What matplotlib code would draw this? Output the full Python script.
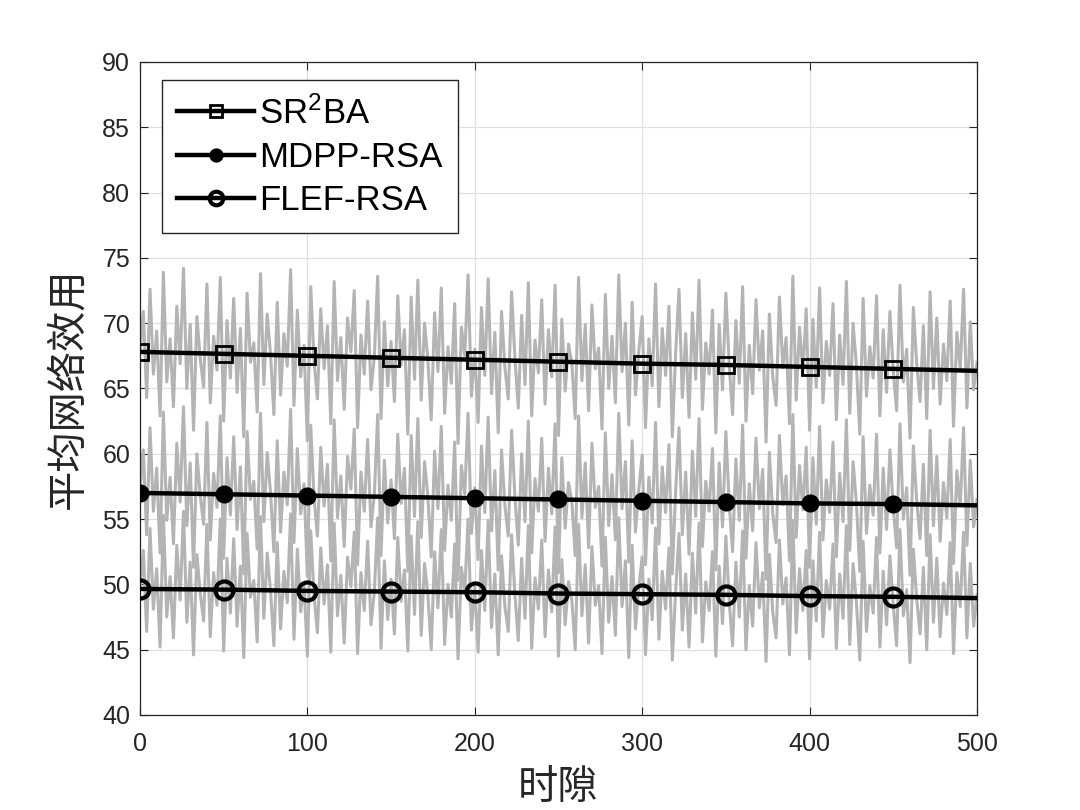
import numpy as np
import matplotlib
matplotlib.use('Agg')
import matplotlib.pyplot as plt

plt.rcParams['font.family'] = ['Liberation Sans', 'Noto Sans CJK SC', 'DejaVu Sans']
plt.rcParams['mathtext.default'] = 'regular'

# slots of the grey per-slot curves (every 2nd slot)
slots = np.arange(0, 501, 2)

sr2ba_raw = [
    67.8, 70.9, 64.3, 72.6, 66.1, 69.4, 62.9, 73.9, 65.5, 68.8,
    63.6, 71.3, 66.9, 74.2, 65.0, 69.9, 61.8, 70.5, 67.3, 65.1,
    73.0, 63.9, 69.0, 66.4, 73.5, 62.5, 70.2, 65.8, 71.9, 64.7,
    69.6, 61.3, 72.3, 67.0, 68.5, 63.2, 73.8, 65.3, 70.7, 67.6,
    63.0, 71.6, 64.5, 69.2, 66.7, 74.1, 63.7, 71.0, 65.9, 68.3,
    61.0, 72.8, 67.1, 64.2, 71.1, 66.5, 69.8, 62.3, 73.2, 65.6,
    68.9, 63.4, 70.4, 67.8, 72.5, 62.0, 69.1, 66.1, 71.7, 64.9,
    67.4, 73.6, 62.7, 70.1, 65.2, 68.6, 64.0, 72.1, 66.8, 69.5,
    61.5, 72.0, 65.7, 73.3, 64.1, 70.0, 67.2, 62.6, 70.8, 66.3,
    72.7, 63.1, 68.2, 65.4, 71.5, 60.8, 69.7, 67.5, 73.7, 64.4,
    68.0, 62.4, 71.2, 66.0, 73.4, 64.6, 69.3, 61.6, 70.9, 66.6,
    64.2, 72.4, 67.3, 63.5, 70.6, 65.3, 73.1, 62.9, 68.7, 66.2,
    71.8, 63.8, 69.5, 65.9, 72.9, 61.4, 70.3, 64.8, 68.4, 66.9,
    62.7, 73.5, 65.6, 69.9, 63.3, 71.4, 66.5, 68.1, 61.9, 72.2,
    65.0, 69.0, 63.9, 73.7, 66.3, 70.0, 62.2, 71.6, 64.5, 67.9,
    70.5, 62.0, 68.8, 65.2, 73.0, 63.6, 69.6, 66.0, 71.3, 61.3,
    67.7, 72.6, 64.3, 69.2, 62.8, 70.8, 65.7, 73.3, 63.4, 68.5,
    66.1, 71.0, 61.6, 69.9, 64.9, 72.3, 66.8, 63.0, 70.2, 65.4,
    72.8, 62.5, 68.3, 64.6, 71.8, 66.4, 69.4, 60.9, 70.7, 65.9,
    63.7, 72.0, 66.6, 68.9, 62.3, 73.6, 64.1, 69.7, 66.2, 71.1,
    61.8, 70.3, 65.1, 72.7, 63.9, 68.6, 66.0, 71.5, 62.6, 69.1,
    65.3, 73.2, 63.1, 70.0, 66.7, 61.5, 71.9, 64.4, 68.2, 65.8,
    72.1, 62.9, 69.5, 64.7, 70.9, 66.3, 63.3, 72.9, 65.5, 68.0,
    61.2, 71.2, 66.9, 64.0, 69.8, 62.7, 72.4, 65.0, 70.4, 63.8,
    68.4, 65.6, 71.7, 62.1, 69.3, 66.5, 72.6, 63.5, 70.1, 64.9,
    67.0]

mdpp_raw = [
    57.1, 60.3, 53.8, 62.0, 55.6, 58.9, 52.4, 63.2, 54.9, 58.2,
    53.1, 60.8, 56.3, 63.6, 54.5, 59.3, 51.3, 60.0, 56.8, 54.6,
    62.4, 53.4, 58.5, 55.9, 62.9, 52.0, 59.7, 55.3, 61.3, 54.2,
    59.0, 50.8, 61.7, 56.5, 57.9, 52.7, 63.1, 54.8, 60.1, 57.0,
    52.5, 61.0, 54.0, 58.6, 56.1, 63.4, 53.2, 60.4, 55.4, 57.7,
    50.6, 62.2, 56.6, 53.7, 60.5, 56.0, 59.2, 51.8, 62.6, 55.1,
    58.3, 52.9, 59.8, 57.3, 61.9, 51.5, 58.6, 55.6, 61.1, 54.4,
    56.9, 63.0, 52.2, 59.5, 54.7, 58.0, 53.5, 61.5, 56.2, 58.9,
    51.0, 61.4, 55.2, 62.7, 53.6, 59.4, 56.7, 52.1, 60.2, 55.8,
    62.1, 52.6, 57.6, 54.9, 60.9, 50.3, 59.1, 56.9, 63.1, 53.9,
    57.4, 51.9, 60.6, 55.5, 62.8, 54.1, 58.7, 51.1, 60.3, 56.0,
    53.7, 61.8, 56.7, 53.0, 60.0, 54.8, 62.5, 52.4, 58.1, 55.6,
    61.2, 53.3, 58.9, 55.4, 62.3, 50.9, 59.7, 54.3, 57.8, 56.3,
    52.2, 62.9, 55.1, 59.3, 52.8, 60.8, 55.9, 57.5, 51.4, 61.6,
    54.5, 58.4, 53.4, 63.1, 55.8, 59.4, 51.7, 61.0, 54.0, 57.3,
    59.9, 51.5, 58.2, 54.7, 62.4, 53.1, 59.0, 55.5, 60.7, 50.8,
    57.1, 62.0, 53.8, 58.6, 52.3, 60.2, 55.2, 62.7, 52.9, 57.9,
    55.6, 60.4, 51.1, 59.3, 54.4, 61.7, 56.2, 52.5, 59.6, 54.9,
    62.2, 52.0, 57.7, 54.1, 61.2, 55.8, 58.8, 50.4, 60.1, 55.4,
    53.2, 61.4, 56.1, 58.3, 51.8, 63.0, 53.6, 59.1, 55.7, 60.5,
    51.3, 59.7, 54.6, 62.1, 53.4, 58.0, 55.5, 60.9, 52.1, 58.5,
    54.8, 62.6, 52.6, 59.4, 56.2, 51.0, 61.3, 53.9, 57.6, 55.3,
    61.5, 52.4, 58.9, 54.2, 60.3, 55.8, 52.8, 62.3, 55.0, 57.4,
    50.7, 60.6, 56.4, 53.5, 59.2, 52.2, 61.8, 54.5, 59.8, 53.3,
    57.8, 55.1, 61.1, 51.6, 58.7, 56.0, 62.0, 53.0, 59.5, 54.4,
    56.5]

flef_raw = [
    49.7, 52.6, 46.4, 54.3, 48.1, 51.2, 45.2, 55.3, 47.5, 50.6,
    45.9, 53.0, 48.8, 55.6, 47.1, 51.7, 44.6, 52.3, 49.3, 47.2,
    54.6, 46.0, 50.9, 48.4, 55.0, 44.9, 52.0, 47.8, 53.5, 46.8,
    51.4, 44.4, 53.9, 49.0, 50.3, 45.6, 55.2, 47.4, 52.4, 49.5,
    45.3, 53.2, 46.6, 51.0, 48.6, 55.4, 45.8, 52.7, 47.9, 50.1,
    44.5, 54.1, 49.1, 46.3, 52.8, 48.5, 51.5, 44.8, 54.7, 47.6,
    50.7, 45.5, 52.1, 49.8, 54.0, 44.7, 50.9, 48.0, 53.3, 46.9,
    49.4, 55.1, 45.1, 51.8, 47.3, 50.4, 46.2, 53.6, 48.7, 51.1,
    44.9, 53.7, 47.7, 54.8, 46.1, 51.6, 49.2, 45.0, 52.5, 48.2,
    54.2, 45.4, 50.0, 47.5, 53.1, 44.3, 51.3, 49.4, 55.0, 46.5,
    49.9, 44.8, 52.6, 48.0, 54.9, 46.7, 50.8, 44.6, 52.2, 48.3,
    46.4, 53.8, 49.2, 45.7, 52.0, 47.4, 54.5, 45.1, 50.5, 48.1,
    53.4, 46.0, 51.1, 47.9, 54.4, 44.5, 51.9, 46.9, 50.2, 48.8,
    45.0, 54.6, 47.6, 51.5, 45.5, 52.9, 48.4, 49.9, 44.7, 53.6,
    47.1, 50.6, 46.1, 55.1, 48.3, 51.8, 44.4, 53.0, 46.6, 49.8,
    52.1, 44.6, 50.4, 47.3, 54.3, 45.8, 51.0, 48.1, 52.8, 44.2,
    49.5, 53.9, 46.5, 50.8, 45.2, 52.4, 47.8, 54.7, 45.6, 50.2,
    48.0, 52.5, 44.5, 51.4, 47.0, 53.7, 48.7, 45.3, 51.7, 47.5,
    54.1, 45.0, 49.9, 46.8, 53.2, 48.2, 50.9, 44.1, 52.3, 47.9,
    45.9, 53.4, 48.5, 50.5, 44.6, 54.9, 46.3, 51.2, 48.0, 52.6,
    44.3, 51.8, 47.2, 54.0, 46.0, 50.3, 48.1, 53.1, 45.1, 50.8,
    47.4, 54.5, 45.4, 51.6, 48.6, 44.2, 53.3, 46.4, 49.9, 47.8,
    53.6, 45.2, 51.0, 46.9, 52.2, 48.4, 45.3, 54.2, 47.6, 49.6,
    44.0, 52.7, 48.9, 46.2, 51.3, 45.0, 53.8, 47.1, 52.0, 46.0,
    50.1, 47.7, 53.2, 44.7, 50.9, 48.3, 54.0, 45.9, 51.6, 46.8,
    49.2]

# average curves
avg_slots = [0, 50, 100, 150, 200, 250, 300, 350, 400, 450, 500]
sr2ba_avg = [67.8, 67.65, 67.5, 67.35, 67.2, 67.05, 66.9, 66.8, 66.65, 66.5, 66.35]
mdpp_avg = [57.0, 56.9, 56.8, 56.7, 56.6, 56.5, 56.4, 56.3, 56.2, 56.15, 56.05]
flef_avg = [49.65, 49.6, 49.5, 49.45, 49.4, 49.3, 49.25, 49.2, 49.1, 49.05, 48.95]

labels = [r'SR$^{2}$BA', 'MDPP-RSA', 'FLEF-RSA']

fig = plt.figure(figsize=(10.8, 8.1), dpi=100)
ax = fig.add_axes([0.1296, 0.1173, 0.775, 0.8062])

grey = '#b4b4b4'
for raw in (sr2ba_raw, mdpp_raw, flef_raw):
    ax.plot(slots, raw, color=grey, lw=2.2, zorder=2)

mk = list(range(10))
ax.plot(avg_slots, sr2ba_avg, color='k', lw=3.2, marker='s', ms=11, mfc='none',
        mew=2, markevery=mk, label=labels[0], zorder=3)
ax.plot(avg_slots, mdpp_avg, color='k', lw=3.2, marker='o', ms=11, mfc='k',
        mew=2, markevery=mk, label=labels[1], zorder=3)
ax.plot(avg_slots, flef_avg, color='k', lw=3.2, marker='o', ms=13, mfc='none',
        mew=3, markevery=mk, label=labels[2], zorder=3)

ax.set_xlim(0, 500)
ax.set_ylim(40, 90)
ax.set_xticks(range(0, 501, 100))
ax.set_yticks(range(40, 91, 5))
ax.grid(True, color='#e0e0e0', lw=0.9)
ax.set_axisbelow(True)
ax.tick_params(direction='in', length=6, width=0.8, top=True, right=True,
               labelsize=18, colors='#262626')
ax.tick_params(axis='x', pad=12)
ax.tick_params(axis='y', pad=7)
for s in ax.spines.values():
    s.set_color('#262626')
    s.set_linewidth(0.9)

ax.set_xlabel('时隙', fontsize=29, family=['Noto Sans CJK SC'], color='#262626',
              labelpad=8)
ax.set_ylabel('平均网络效用', fontsize=29, family=['Noto Sans CJK SC'], color='#262626',
              labelpad=10)

leg = ax.legend(loc='upper left', bbox_to_anchor=(0.026, 0.972), borderaxespad=0,
                fontsize=25, handlelength=2.2, handletextpad=0.15, labelspacing=0.3,
                borderpad=0.45, fancybox=False, framealpha=1, edgecolor='#262626',
                markerscale=0.75)
leg.get_frame().set_linewidth(1.0)

fig.savefig('out.png', dpi=100)
